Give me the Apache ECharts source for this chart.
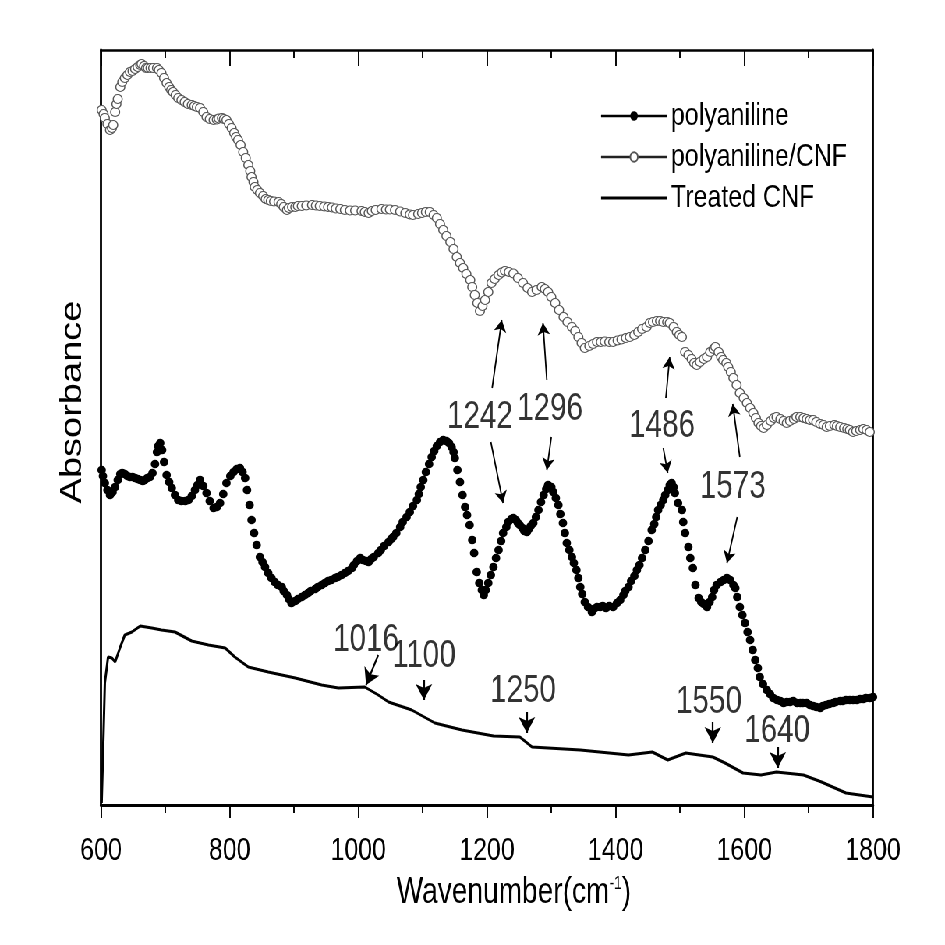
<!DOCTYPE html>
<html><head><meta charset="utf-8">
<script src="https://cdn.jsdelivr.net/npm/echarts@6/dist/echarts.min.js"></script>
<style>
html,body{margin:0;padding:0;background:#fff;overflow:hidden;width:945px;height:945px}
#c{width:1212px;height:945px;transform:scaleX(0.7797);transform-origin:0 0}
</style>
</head><body><div id="c"></div>
<script>
// Wavenumber (cm-1), absorbance (a.u., curves offset)
const polyaniline = [[601,3.35],[603,3.29],[606,3.22],[610,3.15],[614,3.10],[618,3.13],[622,3.18],[626,3.25],[630,3.31],[633,3.32],[637,3.31],[641,3.29],[645,3.28],[649,3.28],[653,3.27],[657,3.26],[661,3.25],[665,3.24],[668,3.25],[672,3.27],[676,3.28],[680,3.32],[684,3.41],[687,3.53],[689,3.59],[692,3.62],[695,3.55],[698,3.43],[702,3.30],[706,3.23],[710,3.17],[715,3.10],[720,3.05],[725,3.04],[731,3.04],[736,3.05],[741,3.09],[746,3.15],[750,3.20],[754,3.25],[759,3.19],[764,3.12],[769,3.04],[775,2.97],[780,2.98],[785,3.02],[790,3.11],[795,3.22],[801,3.29],[806,3.33],[811,3.36],[816,3.37],[820,3.33],[824,3.27],[827,3.15],[831,3.00],[834,2.85],[838,2.72],[842,2.60],[847,2.48],[851,2.43],[855,2.38],[860,2.32],[865,2.27],[870,2.23],[875,2.20],[881,2.18],[884,2.14],[889,2.10],[892,2.06],[896,2.02],[902,2.04],[906,2.06],[912,2.08],[917,2.10],[922,2.12],[926,2.14],[933,2.16],[937,2.18],[943,2.20],[948,2.22],[953,2.24],[958,2.25],[964,2.27],[968,2.28],[974,2.30],[979,2.32],[984,2.34],[990,2.37],[993,2.40],[998,2.44],[1003,2.47],[1007,2.45],[1012,2.44],[1016,2.43],[1020,2.46],[1024,2.48],[1031,2.52],[1035,2.55],[1040,2.59],[1047,2.63],[1051,2.66],[1054,2.68],[1059,2.72],[1065,2.78],[1069,2.83],[1075,2.88],[1080,2.93],[1085,2.99],[1091,3.05],[1094,3.11],[1097,3.18],[1101,3.25],[1105,3.33],[1110,3.41],[1114,3.48],[1118,3.54],[1122,3.59],[1127,3.63],[1132,3.65],[1137,3.64],[1141,3.62],[1145,3.58],[1148,3.53],[1150,3.47],[1154,3.35],[1158,3.23],[1162,3.10],[1166,2.98],[1169,2.90],[1173,2.80],[1177,2.65],[1180,2.52],[1184,2.33],[1188,2.22],[1192,2.15],[1195,2.10],[1198,2.15],[1202,2.22],[1206,2.30],[1210,2.38],[1214,2.47],[1218,2.55],[1222,2.64],[1225,2.72],[1230,2.78],[1233,2.83],[1238,2.86],[1241,2.87],[1245,2.85],[1248,2.82],[1251,2.80],[1255,2.77],[1258,2.74],[1262,2.73],[1265,2.76],[1268,2.79],[1272,2.82],[1276,2.88],[1280,2.95],[1284,3.03],[1288,3.10],[1292,3.16],[1295,3.20],[1300,3.18],[1303,3.13],[1307,3.07],[1311,3.00],[1314,2.91],[1318,2.82],[1321,2.72],[1324,2.62],[1328,2.55],[1332,2.48],[1335,2.42],[1339,2.35],[1342,2.27],[1345,2.18],[1348,2.11],[1352,2.03],[1357,1.98],[1363,1.93],[1366,1.96],[1371,1.98],[1376,1.98],[1380,1.99],[1385,1.97],[1390,1.99],[1396,1.98],[1402,2.02],[1407,2.05],[1412,2.10],[1415,2.14],[1420,2.18],[1424,2.24],[1429,2.29],[1433,2.35],[1437,2.40],[1441,2.47],[1446,2.55],[1451,2.64],[1456,2.75],[1460,2.81],[1463,2.88],[1466,2.95],[1470,3.00],[1474,3.05],[1477,3.10],[1481,3.15],[1484,3.20],[1487,3.22],[1490,3.18],[1492,3.12],[1497,3.02],[1503,2.95],[1505,2.83],[1508,2.72],[1513,2.58],[1516,2.47],[1520,2.37],[1524,2.20],[1529,2.07],[1533,2.03],[1537,2.01],[1542,1.98],[1546,2.03],[1550,2.08],[1553,2.15],[1557,2.20],[1563,2.23],[1568,2.25],[1573,2.27],[1578,2.25],[1583,2.20],[1586,2.17],[1589,2.08],[1593,1.98],[1597,1.90],[1601,1.82],[1605,1.73],[1609,1.65],[1613,1.55],[1617,1.45],[1621,1.37],[1624,1.28],[1629,1.21],[1635,1.15],[1640,1.11],[1645,1.07],[1651,1.05],[1656,1.04],[1661,1.02],[1666,1.03],[1671,1.03],[1676,1.04],[1682,1.02],[1687,1.02],[1691,1.02],[1697,1.02],[1702,1.00],[1707,0.99],[1712,0.98],[1718,0.97],[1722,0.99],[1727,1.00],[1732,1.01],[1738,1.02],[1742,1.03],[1749,1.04],[1753,1.04],[1758,1.05],[1764,1.05],[1769,1.05],[1775,1.05],[1780,1.06],[1785,1.06],[1789,1.07],[1795,1.07],[1800,1.08]];
const polyanilineCNF = [[601,6.95],[604,6.91],[606,6.87],[610,6.81],[614,6.75],[617,6.77],[619,6.80],[622,6.93],[624,7.01],[626,7.06],[630,7.18],[633,7.23],[637,7.27],[641,7.30],[645,7.33],[649,7.34],[653,7.36],[657,7.38],[661,7.40],[663,7.41],[667,7.39],[670,7.37],[673,7.37],[677,7.37],[681,7.37],[687,7.37],[690,7.35],[694,7.32],[698,7.27],[702,7.22],[706,7.18],[709,7.15],[712,7.13],[716,7.10],[720,7.07],[725,7.05],[730,7.03],[735,7.01],[741,7.00],[745,6.99],[749,6.98],[754,6.97],[759,6.93],[764,6.88],[769,6.86],[775,6.85],[780,6.855],[783,6.865],[788,6.87],[791,6.86],[795,6.85],[799,6.81],[803,6.77],[807,6.72],[810,6.68],[813,6.65],[817,6.60],[821,6.53],[825,6.47],[829,6.40],[832,6.34],[834,6.28],[837,6.23],[839,6.18],[843,6.15],[847,6.12],[852,6.09],[856,6.06],[860,6.05],[864,6.04],[869,6.035],[876,6.03],[880,6.01],[884,5.98],[889,5.95],[892,5.97],[897,5.98],[902,5.98],[906,5.99],[912,5.99],[919,5.995],[928,6.00],[934,5.995],[940,5.99],[947,5.985],[953,5.98],[959,5.975],[965,5.965],[972,5.96],[979,5.95],[987,5.945],[995,5.945],[1005,5.94],[1010,5.93],[1016,5.92],[1021,5.94],[1027,5.95],[1036,5.96],[1043,5.955],[1049,5.955],[1057,5.95],[1065,5.935],[1073,5.92],[1080,5.905],[1085,5.90],[1093,5.91],[1099,5.92],[1105,5.93],[1111,5.93],[1117,5.90],[1122,5.87],[1127,5.81],[1132,5.75],[1137,5.69],[1143,5.63],[1148,5.56],[1153,5.48],[1158,5.42],[1163,5.37],[1168,5.31],[1174,5.25],[1177,5.18],[1181,5.10],[1185,5.02],[1189,4.94],[1193,4.99],[1197,5.05],[1202,5.13],[1207,5.22],[1212,5.26],[1218,5.30],[1223,5.325],[1228,5.34],[1234,5.33],[1241,5.315],[1248,5.27],[1256,5.22],[1263,5.17],[1270,5.13],[1277,5.15],[1285,5.18],[1290,5.16],[1295,5.13],[1300,5.08],[1306,5.02],[1312,4.95],[1319,4.88],[1325,4.83],[1332,4.78],[1337,4.74],[1342,4.68],[1347,4.62],[1352,4.57],[1359,4.59],[1365,4.61],[1371,4.63],[1377,4.63],[1383,4.635],[1390,4.63],[1396,4.63],[1403,4.645],[1409,4.655],[1416,4.67],[1422,4.68],[1429,4.70],[1435,4.73],[1441,4.76],[1448,4.78],[1453,4.82],[1458,4.83],[1464,4.84],[1469,4.84],[1474,4.83],[1480,4.83],[1484,4.82],[1490,4.78],[1495,4.73],[1499,4.70],[1503,4.68],[1508,4.53],[1513,4.50],[1518,4.46],[1522,4.42],[1526,4.40],[1531,4.43],[1537,4.46],[1542,4.48],[1547,4.53],[1552,4.56],[1555,4.58],[1560,4.53],[1564,4.48],[1567,4.45],[1572,4.42],[1575,4.38],[1579,4.33],[1583,4.27],[1588,4.20],[1593,4.12],[1599,4.07],[1604,4.02],[1609,3.97],[1614,3.92],[1618,3.87],[1622,3.82],[1626,3.79],[1630,3.77],[1635,3.80],[1641,3.84],[1646,3.87],[1650,3.88],[1656,3.86],[1661,3.84],[1666,3.82],[1671,3.84],[1677,3.86],[1681,3.88],[1687,3.88],[1692,3.87],[1697,3.86],[1702,3.85],[1707,3.85],[1712,3.83],[1718,3.81],[1723,3.80],[1728,3.78],[1733,3.79],[1740,3.80],[1744,3.79],[1749,3.78],[1755,3.77],[1760,3.76],[1764,3.75],[1769,3.73],[1774,3.74],[1780,3.75],[1785,3.76],[1790,3.75],[1795,3.73]];
const treatedCNF = [[601,0.02],[604,0.72],[606,1.22],[611,1.48],[617,1.47],[622,1.43],[630,1.58],[637,1.70],[648,1.73],[661,1.79],[679,1.77],[694,1.75],[715,1.73],[741,1.64],[767,1.60],[793,1.57],[808,1.48],[829,1.38],[860,1.33],[902,1.27],[943,1.20],[969,1.17],[1010,1.18],[1031,1.10],[1047,1.03],[1083,0.95],[1119,0.82],[1161,0.75],[1210,0.69],[1251,0.68],[1270,0.58],[1345,0.55],[1420,0.50],[1457,0.53],[1481,0.45],[1509,0.52],[1551,0.48],[1570,0.42],[1598,0.32],[1626,0.30],[1650,0.33],[1692,0.30],[1720,0.23],[1758,0.12],[1800,0.08]];
// Peak annotations: [x, y, text]
const peakLabels = [[1189,3.87,'1242'],[1298,3.95,'1296'],[1472,3.78,'1486'],[1582,3.17,'1573'],[1012,1.64,'1016'],[1102,1.48,'1100'],[1256,1.13,'1250'],[1545,1.02,'1550'],[1651,0.73,'1640']];
// Arrows: [x1, y1, x2, y2]
const peakArrows = [[1208,4.17,1223,4.85],[1293,4.25,1287,4.82],[1478,4.07,1484,4.48],[1593,3.48,1582,4.01],[1206,3.63,1225,3.02],[1300,3.68,1293,3.35],[1474,3.57,1481,3.32],[1589,2.88,1573,2.42]];
const bandArrows = [[1031,1.50,1012,1.20],[1102,1.25,1102,1.05],[1262,0.93,1262,0.72],[1551,0.83,1551,0.62],[1652,0.58,1652,0.37]];
const xTicks = [600,800,1000,1200,1400,1600,1800];

const K = 945/1212; // horizontal squeeze of the whole figure
const FONT = "'Liberation Sans', Arial, sans-serif";
const chart = echarts.init(document.getElementById('c'), null, {renderer:'canvas'});
const xmin = xTicks[0], xmax = xTicks[xTicks.length-1];
const tw = 1.5/K;
chart.setOption({
  animation:false,
  backgroundColor:'#fff',
  grid:{left:101/K, right:72/K, top:50, bottom:140, show:false},
  xAxis:[
    {type:'value', min:xmin, max:xmax, interval:200, position:'bottom', splitLine:{show:false},
      axisLine:{show:true, onZero:false, lineStyle:{color:'#000', width:3}},
      axisTick:{show:true, inside:false, length:13, lineStyle:{color:'#000', width:tw}},
      minorTick:{show:true, splitNumber:2, length:8, lineStyle:{color:'#000', width:tw}},
      axisLabel:{show:true, color:'#000', fontSize:32, fontFamily:FONT, margin:30, formatter:v=>String(v)}},
    {type:'value', min:xmin, max:xmax, interval:200, position:'top', splitLine:{show:false},
      axisLine:{show:true, onZero:false, lineStyle:{color:'#000', width:2.5}},
      axisTick:{show:true, inside:true, length:16, lineStyle:{color:'#000', width:tw}},
      minorTick:{show:true, splitNumber:2, length:8, lineStyle:{color:'#000', width:tw}},
      axisLabel:{show:false}}
  ],
  yAxis:[
    {type:'value', min:0, max:7.55, position:'left', axisLine:{show:true, onZero:false, lineStyle:{color:'#000', width:2.2/K}},
     axisTick:{show:false}, axisLabel:{show:false}, splitLine:{show:false}},
    {type:'value', min:0, max:7.55, position:'right', axisLine:{show:true, onZero:false, lineStyle:{color:'#000', width:2.2/K}},
     axisTick:{show:false}, axisLabel:{show:false}, splitLine:{show:false}}
  ],
  legend:{
    orient:'vertical', left:596/K, top:95, itemWidth:66/K, itemHeight:12, itemGap:9,
    textStyle:{fontSize:32, fontFamily:FONT, color:'#000', lineHeight:32},
    data:[
      {name:'polyaniline', lineStyle:{opacity:1, color:'#000', width:2.5}},
      {name:'polyaniline/CNF', lineStyle:{opacity:1, color:'#222', width:2.5}},
      {name:'Treated CNF', itemStyle:{opacity:0}, lineStyle:{width:3, color:'#000'}}
    ]
  },
  graphic:[
    {type:'text', x:73/K, y:402, rotation:Math.PI/2, style:{text:'Absorbance', font:"38px 'Liberation Sans', Arial, sans-serif", fill:'#000', align:'center', verticalAlign:'middle'}},
    {type:'text', x:514/K, y:893, style:{text:'{m|Wavenumber(cm}{s|-1}{m|)}', align:'center', verticalAlign:'middle',
      rich:{m:{fontSize:36, fontFamily:FONT, fill:'#000', color:'#000'}, s:{fontSize:18, fontFamily:FONT, color:'#000', fill:'#000', verticalAlign:'top', padding:[0,0,18,0]}}}}
  ],
  series:[
    {name:'Treated CNF', type:'line', data:treatedCNF, showSymbol:false, symbol:'none',
     lineStyle:{color:'#000', width:3}, itemStyle:{color:'#000'}, z:3},
    {name:'polyaniline', type:'line', data:polyaniline, symbol:'circle', symbolSize:[8.5/K, 8.5], showSymbol:true, showAllSymbol:true,
     lineStyle:{opacity:0}, itemStyle:{color:'#000', borderWidth:0}, z:4},
    {name:'polyaniline/CNF', type:'line', data:polyanilineCNF, symbol:'circle', symbolSize:[9/K, 9], showSymbol:true, showAllSymbol:true,
     lineStyle:{opacity:0}, itemStyle:{color:'#fff', borderColor:'#555', borderWidth:1.3}, z:4},
    {name:'labels', type:'scatter', data:peakLabels, symbolSize:0, z:6, itemStyle:{color:'#000'},
     label:{show:true, position:'inside', formatter:p=>p.data[2], fontSize:38, fontFamily:FONT, color:'#000', textBorderWidth:0}},
    {name:'arrowsA', type:'lines', coordinateSystem:'cartesian2d', silent:true, z:5,
     symbol:['none','arrow'], symbolSize:[0,12],
     lineStyle:{color:'#000', width:1.8, opacity:1, curveness:0},
     data:peakArrows.map(a=>({coords:[[a[0],a[1]],[a[2],a[3]]]}))},
    {name:'arrowsB', type:'lines', coordinateSystem:'cartesian2d', silent:true, z:5,
     symbol:['none','arrow'], symbolSize:[0,16],
     lineStyle:{color:'#000', width:2.2, opacity:1, curveness:0},
     data:bandArrows.map(a=>({coords:[[a[0],a[1]],[a[2],a[3]]]}))}
  ]
});
</script></body></html>
